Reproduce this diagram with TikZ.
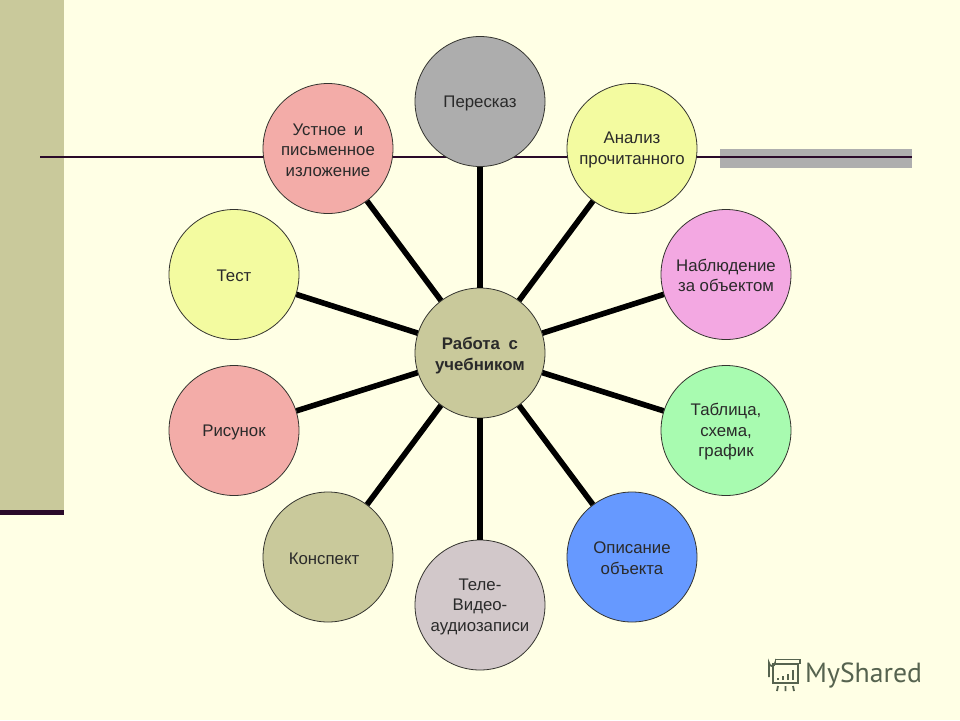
\documentclass[tikz,border=0pt]{standalone}
\usepackage{fontspec}
\setmainfont{Liberation Sans}
\newfontfamily\whlogofont{PT Sans}
\usetikzlibrary{arrows.meta, positioning, calc}
\definecolor{whPaper}{HTML}{FFFFE5}
\definecolor{whBand}{HTML}{C9C99B}
\definecolor{whRule}{HTML}{2A0A2A}
\definecolor{whBar}{HTML}{AEAEAE}
\definecolor{whInk}{HTML}{2A2A2A}
\definecolor{whHub}{HTML}{C9C99B}
\definecolor{whGrey}{HTML}{ADADAD}
\definecolor{whLime}{HTML}{F3FBA0}
\definecolor{whPink}{HTML}{F3A8E2}
\definecolor{whMint}{HTML}{A8FBB0}
\definecolor{whBlue}{HTML}{6699FF}
\definecolor{whMauve}{HTML}{D2C8CA}
\definecolor{whRose}{HTML}{F3ACA8}
\definecolor{whLogo}{HTML}{56634F}
\tikzset{
  whcircle/.style={
    circle, draw=black!80!whPaper, fill=#1, line width=0.8pt, minimum size=130pt,
    inner sep=0pt, align=center, text=whInk,
    font=\fontsize{16.8}{20.5}\selectfont,
  },
  whspoke/.style={draw=black, line width=5.6pt},
  whicon/.style={draw=whLogo, line width=1.8pt},
}
\newcommand{\whstep}[4]{%
  \node[whcircle=#1] (#2) at (#3) {\rule{0pt}{14.5pt}#4};%
}

\begin{document}
\begin{tikzpicture}[x=1pt, y=-1pt]
\useasboundingbox (0,0) rectangle (960,720);

% Backdrop ----------------------------------------------------------------
\fill[whPaper] (0,0) rectangle (960,720);
\fill[whBand] (0,0) rectangle (64,510);
\fill[whRule] (0,510) rectangle (64,515);
\fill[whBar] (720,149) rectangle (912,168);
\coordinate (ruleL) at (40,157);
\coordinate (ruleR) at (912,157);
\draw[whRule, line width=2pt] (ruleL) -- (ruleR);

% Circles -----------------------------------------------------------------
\whstep{whHub}{hub}{480,353}{\rule{0pt}{17pt}\textbf{Работа\hspace{4pt} с}\hspace{3pt}\\\textbf{учебником}}
\whstep{whGrey}{p1}{480,101.5}{Пересказ}
\whstep{whLime}{p2}{632,148.5}{Анализ\hspace{14pt}\\прочитанного}
\whstep{whPink}{p3}{726,274.5}{Наблюдение\\за объектом}
\whstep{whMint}{p4}{726,430.5}{Таблица,\\схема,\\график}
\whstep{whBlue}{p5}{632,557}{Описание\\объекта}
\whstep{whMauve}{p6}{480,605}{Теле-\\Видео-\\аудиозаписи}
\whstep{whHub}{p7}{328,557}{Конспект\hspace{8pt}}
\whstep{whRose}{p8}{234,430.5}{Рисунок}
\whstep{whLime}{p9}{234,274.5}{Тест}
\whstep{whRose}{p10}{328,148.5}{Устное\hspace{3pt} и\hspace{4pt}\\письменное\\изложение}

% Spokes ------------------------------------------------------------------
\foreach \a in {p1,p2,p3,p4,p5,p6,p7,p8,p9,p10}{%
  \draw[whspoke] (hub) -- (\a);
}

% Logo --------------------------------------------------------------------
\node[anchor=west, inner sep=0pt, text=whLogo, font=\whlogofont\fontsize{27.7}{28}\selectfont]
  (logo) at (805,675) {MyShared};
\draw[whicon] (773,664) rectangle (798,683);
\draw[whicon] (769,677) -- (769,663) arc[start angle=180, end angle=0, radius=3] -- (775,664);
\draw[whicon] (775,659.5) -- (800,659.5) -- (800,664);
\draw[whicon, line width=2.6pt] (778,680) -- (778,678) (783,680) -- (783,676)
  (788,680) -- (788,674) (793,680) -- (793,670);
\draw[whicon] (778,686) -- (777,691) (785.5,686) -- (785.5,691) (793,686) -- (794,691);

\end{tikzpicture}
\end{document}
